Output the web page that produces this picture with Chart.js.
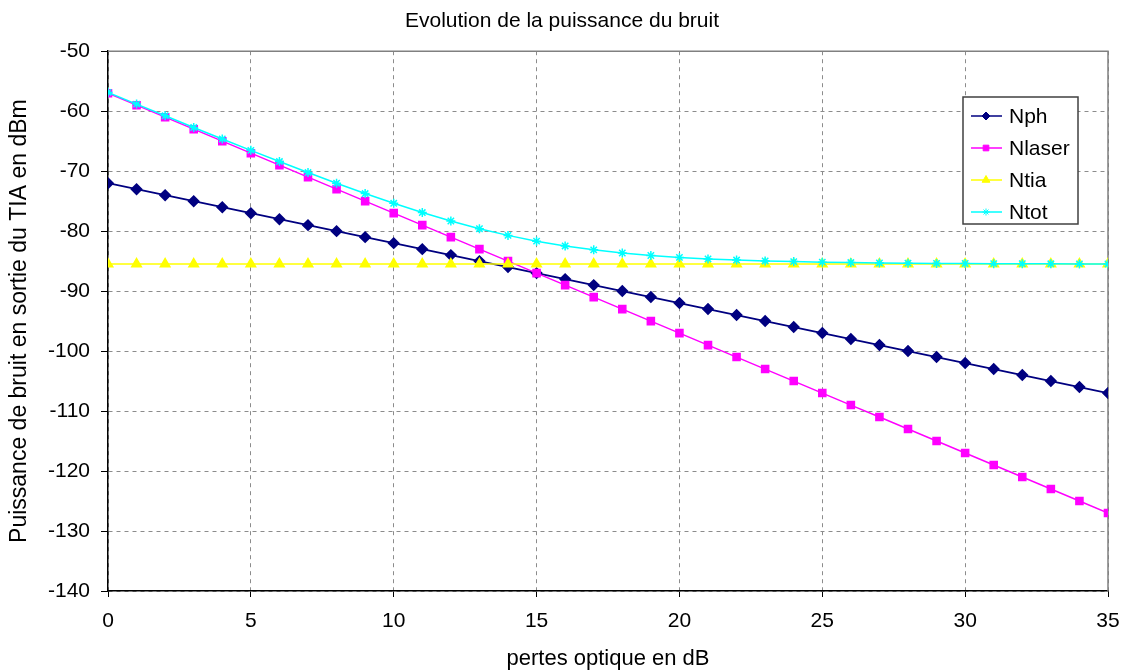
<!DOCTYPE html>
<html lang="en">
<head>
  <meta charset="UTF-8">
  <title>Evolution de la puissance du bruit</title>
  <script src="https://cdn.jsdelivr.net/npm/chart.js"></script>
  <style>
    html, body { margin: 0; padding: 0; background: #fff; }
    #wrap { width: 1124px; height: 672px; }
  </style>
</head>
<body>
<div id="wrap"><canvas id="bruitChart"></canvas></div>

<script>
  // pertes optiques (dB)
  var pertes = [0,1,2,3,4,5,6,7,8,9,10,11,12,13,14,15,16,17,18,19,20,21,22,23,24,25,26,27,28,29,30,31,32,33,34,35];

  // bruit en dBm
  var nph = [-72,-73,-74,-75,-76,-77,-78,-79,-80,-81,-82,-83,-84,-85,-86,-87,-88,-89,-90,-91,-92,-93,-94,-95,-96,-97,-98,-99,-100,-101,-102,-103,-104,-105,-106,-107];
  var nlaser = [-57,-59,-61,-63,-65,-67,-69,-71,-73,-75,-77,-79,-81,-83,-85,-87,-89,-91,-93,-95,-97,-99,-101,-103,-105,-107,-109,-111,-113,-115,-117,-119,-121,-123,-125,-127];
  var ntia = [-85.5,-85.5,-85.5,-85.5,-85.5,-85.5,-85.5,-85.5,-85.5,-85.5,-85.5,-85.5,-85.5,-85.5,-85.5,-85.5,-85.5,-85.5,-85.5,-85.5,-85.5,-85.5,-85.5,-85.5,-85.5,-85.5,-85.5,-85.5,-85.5,-85.5,-85.5,-85.5,-85.5,-85.5,-85.5,-85.5];
  var ntot = [-56.86,-58.82,-60.77,-62.71,-64.63,-66.53,-68.40,-70.23,-72.01,-73.73,-75.36,-76.90,-78.31,-79.59,-80.71,-81.67,-82.47,-83.12,-83.65,-84.06,-84.38,-84.63,-84.82,-84.97,-85.08,-85.17,-85.24,-85.30,-85.34,-85.38,-85.40,-85.42,-85.44,-85.45,-85.46,-85.47];

  var xTicks = [0, 5, 10, 15, 20, 25, 30, 35];
  var yMin = -140, yMax = -50, yStep = 10;

  function pts(arr) {
    return arr.map(function(v, i) { return { x: pertes[i], y: v }; });
  }

  var FONT = '"Liberation Sans", Arial, sans-serif';
  Chart.defaults.font.family = FONT;
  Chart.defaults.color = '#000';

  // cadre gris en haut et a droite
  var framePlugin = {
    id: 'frame',
    beforeDatasetsDraw: function(chart) {
      var a = chart.chartArea, ctx = chart.ctx;
      ctx.save();
      ctx.strokeStyle = '#808080';
      ctx.lineWidth = 1.5;
      ctx.beginPath();
      ctx.moveTo(a.left, a.top);
      ctx.lineTo(a.right, a.top);
      ctx.lineTo(a.right, a.bottom);
      ctx.stroke();
      ctx.restore();
    }
  };

  // legende dans la zone du graphe, comme Excel
  var legendPlugin = {
    id: 'boxLegend',
    afterDraw: function(chart) {
      var ctx = chart.ctx;
      var bx = 963, by = 97, bw = 115, bh = 127;
      ctx.save();
      ctx.fillStyle = '#fff';
      ctx.fillRect(bx, by, bw, bh);
      ctx.strokeStyle = '#404040';
      ctx.lineWidth = 1.5;
      ctx.strokeRect(bx, by, bw, bh);
      chart.data.datasets.forEach(function(ds, i) {
        var y = by + 19 + i * 32;
        ctx.strokeStyle = ds.borderColor;
        ctx.lineWidth = 1.5;
        ctx.beginPath();
        ctx.moveTo(bx + 8, y);
        ctx.lineTo(bx + 39, y);
        ctx.stroke();
        ctx.fillStyle = ds.pointBackgroundColor;
        ctx.strokeStyle = ds.pointBorderColor;
        ctx.lineWidth = 1;
        Chart.helpers.drawPoint(ctx, { pointStyle: ds.pointStyle, radius: ds.pointRadius - 1, rotation: 0, borderWidth: 1 }, bx + 23, y);
        ctx.fillStyle = '#000';
        ctx.font = '21px ' + FONT;
        ctx.textBaseline = 'middle';
        ctx.fillText(ds.label, bx + 46, y + 1);
      });
      ctx.restore();
    }
  };

  var ctx = document.getElementById('bruitChart').getContext('2d');
  new Chart(ctx, {
    type: 'line',
    data: {
      datasets: [
        { label: 'Nph', data: pts(nph), borderColor: '#000080', backgroundColor: '#000080', order: 3,
          pointStyle: 'rectRot', pointRadius: 5, pointBackgroundColor: '#000080', pointBorderColor: '#000080', borderWidth: 1.75 },
        { label: 'Nlaser', data: pts(nlaser), borderColor: '#FF00FF', backgroundColor: '#FF00FF', order: 2,
          pointStyle: 'rect', pointRadius: 5, pointBackgroundColor: '#FF00FF', pointBorderColor: '#FF00FF', borderWidth: 1.5 },
        { label: 'Ntia', data: pts(ntia), borderColor: '#FFFF00', backgroundColor: '#FFFF00', order: 1,
          pointStyle: 'triangle', pointRadius: 5.5, pointBackgroundColor: '#FFFF00', pointBorderColor: '#FFFF00', borderWidth: 1.5 },
        { label: 'Ntot', data: pts(ntot), borderColor: '#00FFFF', backgroundColor: '#00FFFF', order: 0,
          pointStyle: 'star', pointRadius: 4.5, pointBackgroundColor: '#00FFFF', pointBorderColor: '#00FFFF', borderWidth: 1.5,
          pointBorderWidth: 1.5 }
      ]
    },
    options: {
      responsive: true,
      maintainAspectRatio: false,
      animation: false,
      layout: { padding: { top: 0, right: 0, left: 0, bottom: 0 } },
      plugins: {
        legend: { display: false },
        tooltip: { enabled: false },
        title: {
          display: true,
          text: 'Evolution de la puissance du bruit',
          font: { size: 21, weight: 'normal' },
          color: '#000',
          padding: { top: 9, bottom: 17 }
        }
      },
      scales: {
        x: {
          type: 'linear',
          min: 0,
          max: 35,
          afterBuildTicks: function(axis) {
            axis.ticks = xTicks.map(function(v) { return { value: v }; });
          },
          afterFit: function(axis) {
            axis.height = 81;
            axis.paddingLeft = 0;
            axis.paddingRight = 16;
          },
          ticks: { font: { size: 21 }, color: '#000', padding: 12, maxRotation: 0 },
          grid: { color: '#8c8c8c', tickLength: 6, tickColor: '#000', tickBorderDash: [] },
          border: { color: '#000', width: 1.5, dash: [4, 4] },
          title: { display: true, text: 'pertes optique en dB', font: { size: 22 }, color: '#000', padding: { top: 4, bottom: 0 } }
        },
        y: {
          min: yMin,
          max: yMax,
          afterFit: function(axis) { axis.width = 108; },
          ticks: { stepSize: yStep, font: { size: 21 }, color: '#000', padding: 11 },
          grid: { color: '#8c8c8c', tickLength: 7, tickColor: '#000', tickBorderDash: [] },
          border: { color: '#000', width: 1.5, dash: [4, 4] },
          title: { display: true, text: 'Puissance de bruit en sortie du TIA en dBm', font: { size: 23 }, color: '#000', padding: { top: 6, bottom: 0 } }
        }
      }
    },
    plugins: [framePlugin, legendPlugin]
  });
</script>
</body>
</html>
